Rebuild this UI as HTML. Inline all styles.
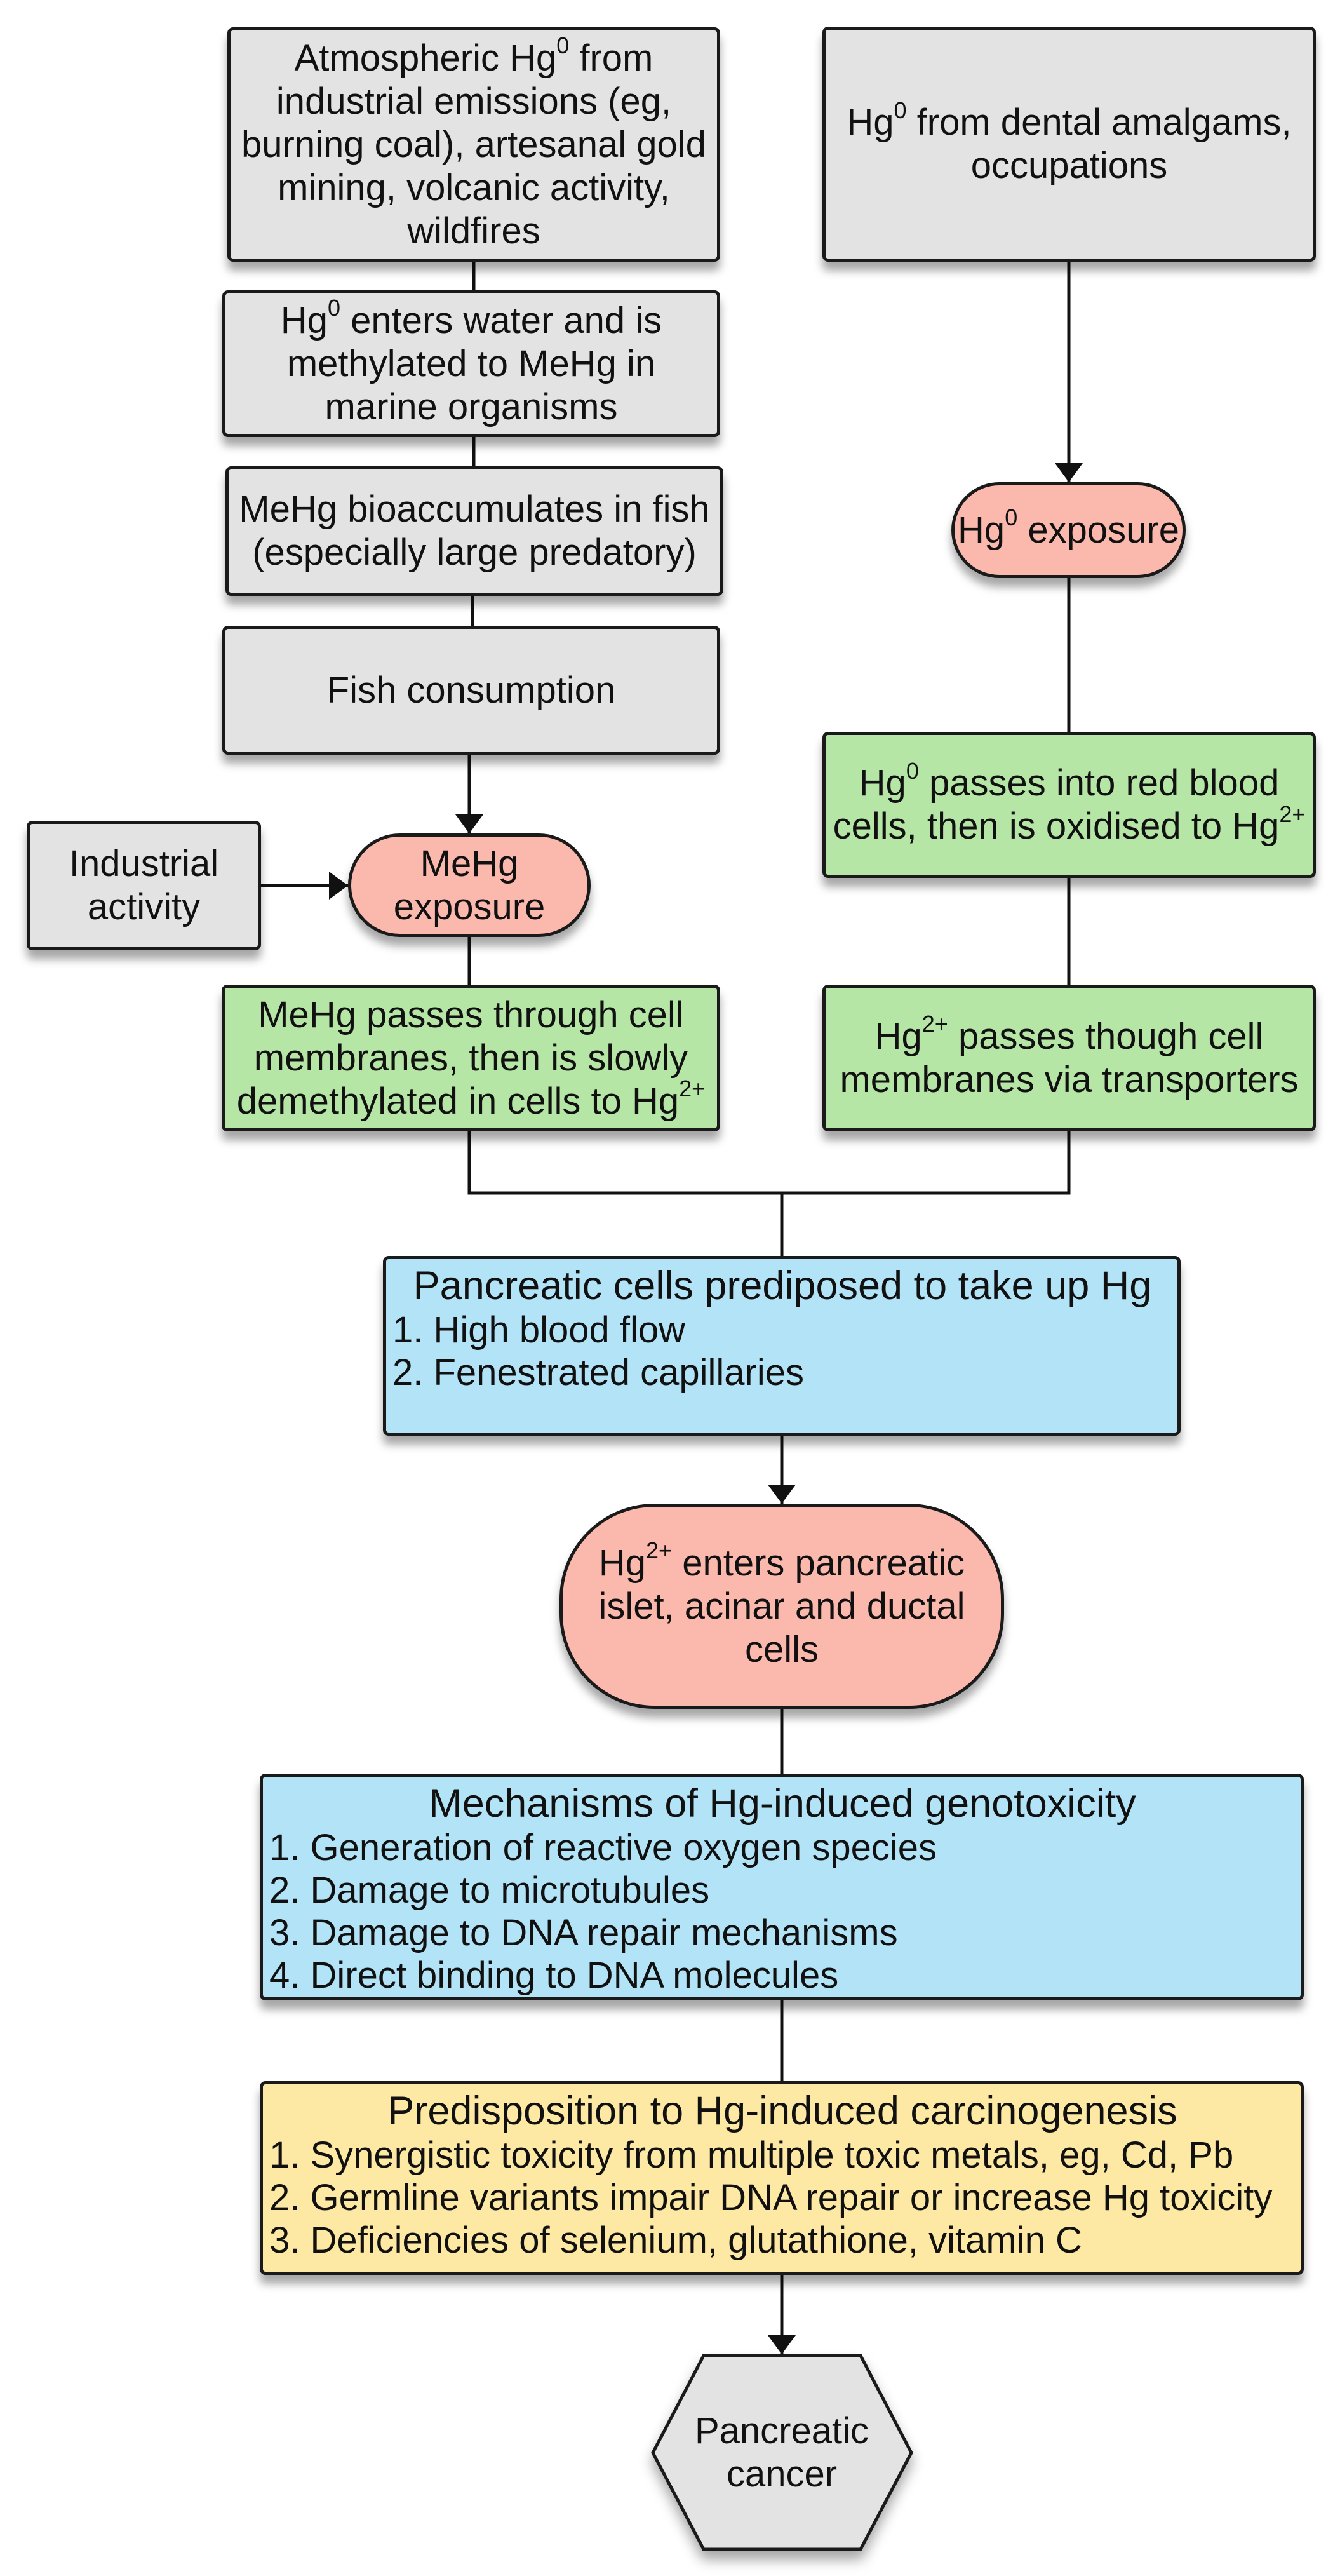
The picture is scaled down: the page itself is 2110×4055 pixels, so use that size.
<!DOCTYPE html>
<html><head><meta charset="utf-8"><style>
html,body{margin:0;padding:0;background:#fff;}
body{width:2110px;height:4055px;position:relative;overflow:hidden;font-family:"Liberation Sans",sans-serif;color:#111;}
.b{position:absolute;box-sizing:border-box;border:5px solid #1a1a1a;border-radius:9px;display:flex;align-items:center;justify-content:center;text-align:center;font-size:58px;line-height:68px;box-shadow:0 14px 14px rgba(0,0,0,0.35);white-space:nowrap;}
.g{background:#e3e3e3;}
.gr{background:#b6e6a6;}
.p{background:#fbb9ae;}
.bl{background:#b2e3f6;}
.y{background:#fde9a4;}
.l{display:block;text-align:left;padding:6px 8px 0 10px;}
.l .t{text-align:center;font-size:63px;line-height:72px;}
.l div{line-height:67px;}
sup{font-size:36px;line-height:0;position:relative;top:-6px;}
svg{position:absolute;left:0;top:0;}
</style></head><body>
<svg width="2110" height="4055">
<defs>
<marker id="m" markerWidth="30" markerHeight="44" refX="30" refY="22" orient="auto" markerUnits="userSpaceOnUse"><path d="M0,0 L30,22 L0,44z" fill="#111"/></marker></defs>
<g stroke="#111" stroke-width="5" fill="none">
<line x1="746" y1="412" x2="746" y2="457"/>
<line x1="746" y1="688" x2="746" y2="734"/>
<line x1="744" y1="938" x2="744" y2="985"/>
<line x1="739" y1="1188" x2="739" y2="1312" marker-end="url(#m)"/>
<line x1="411" y1="1394" x2="548" y2="1394" marker-end="url(#m)"/>
<line x1="1683" y1="412" x2="1683" y2="759" marker-end="url(#m)"/>
<line x1="1683" y1="910" x2="1683" y2="1152"/>
<line x1="1683" y1="1382" x2="1683" y2="1550"/>
<line x1="739" y1="1475" x2="739" y2="1550"/>
<polyline points="739,1781 739,1878 1683,1878 1683,1781"/>
<line x1="1231" y1="1878" x2="1231" y2="1977"/>
<line x1="1231" y1="2260" x2="1231" y2="2367" marker-end="url(#m)"/>
<line x1="1231" y1="2690" x2="1231" y2="2792"/>
<line x1="1231" y1="3149" x2="1231" y2="3276"/>
<line x1="1231" y1="3581" x2="1231" y2="3706" marker-end="url(#m)"/>
</g>
<polygon points="1108,3708 1355,3708 1435,3861 1355,4013 1108,4013 1028,3861" fill="#e3e3e3" stroke="#1a1a1a" stroke-width="5" style="filter:drop-shadow(0 14px 10px rgba(0,0,0,0.35))"/>
<text x="1231" y="3846" font-size="58" text-anchor="middle" font-family="Liberation Sans, sans-serif" fill="#111">Pancreatic</text>
<text x="1231" y="3914" font-size="58" text-anchor="middle" font-family="Liberation Sans, sans-serif" fill="#111">cancer</text>
</svg>

<div class="b g" style="left:358px;top:43px;width:776px;height:369px;"><span>Atmospheric Hg<sup>0</sup> from<br>industrial emissions (eg,<br>burning coal), artesanal gold<br>mining, volcanic activity,<br>wildfires</span></div>
<div class="b g" style="left:1295px;top:42px;width:777px;height:370px;"><span>Hg<sup>0</sup> from dental amalgams,<br>occupations</span></div>
<div class="b g" style="left:350px;top:457px;width:784px;height:231px;"><span>Hg<sup>0</sup> enters water and is<br>methylated to MeHg in<br>marine organisms</span></div>
<div class="b g" style="left:355px;top:734px;width:784px;height:204px;"><span>MeHg bioaccumulates in fish<br>(especially large predatory)</span></div>
<div class="b g" style="left:350px;top:985px;width:784px;height:203px;"><span>Fish consumption</span></div>
<div class="b p" style="left:1498px;top:759px;width:369px;height:151px;border-radius:76px;"><span>Hg<sup>0</sup> exposure</span></div>
<div class="b gr" style="left:1295px;top:1152px;width:777px;height:230px;"><span>Hg<sup>0</sup> passes into red blood<br>cells, then is oxidised to Hg<sup>2+</sup></span></div>
<div class="b g" style="left:42px;top:1292px;width:369px;height:204px;"><span>Industrial<br>activity</span></div>
<div class="b p" style="left:548px;top:1312px;width:382px;height:163px;border-radius:82px;"><span>MeHg<br>exposure</span></div>
<div class="b gr" style="left:349px;top:1550px;width:785px;height:231px;"><span>MeHg passes through cell<br>membranes, then is slowly<br>demethylated in cells to Hg<sup>2+</sup></span></div>
<div class="b gr" style="left:1295px;top:1550px;width:777px;height:231px;"><span>Hg<sup>2+</sup> passes though cell<br>membranes via transporters</span></div>
<div class="b bl l" style="left:603px;top:1977px;width:1256px;height:283px;"><div class="t">Pancreatic cells prediposed to take up Hg</div><div>1. High blood flow</div><div>2. Fenestrated capillaries</div></div>
<div class="b p" style="left:881px;top:2367px;width:700px;height:323px;border-radius:150px;"><span>Hg<sup>2+</sup> enters pancreatic<br>islet, acinar and ductal<br>cells</span></div>
<div class="b bl l" style="left:409px;top:2792px;width:1644px;height:357px;"><div class="t">Mechanisms of Hg-induced genotoxicity</div><div>1. Generation of reactive oxygen species</div><div>2. Damage to microtubules</div><div>3. Damage to DNA repair mechanisms</div><div>4. Direct binding to DNA molecules</div></div>
<div class="b y l" style="left:409px;top:3276px;width:1644px;height:305px;"><div class="t">Predisposition to Hg-induced carcinogenesis</div><div>1. Synergistic toxicity from multiple toxic metals, eg, Cd, Pb</div><div>2. Germline variants impair DNA repair or increase Hg toxicity</div><div>3. Deficiencies of selenium, glutathione, vitamin C</div></div>
</body></html>
